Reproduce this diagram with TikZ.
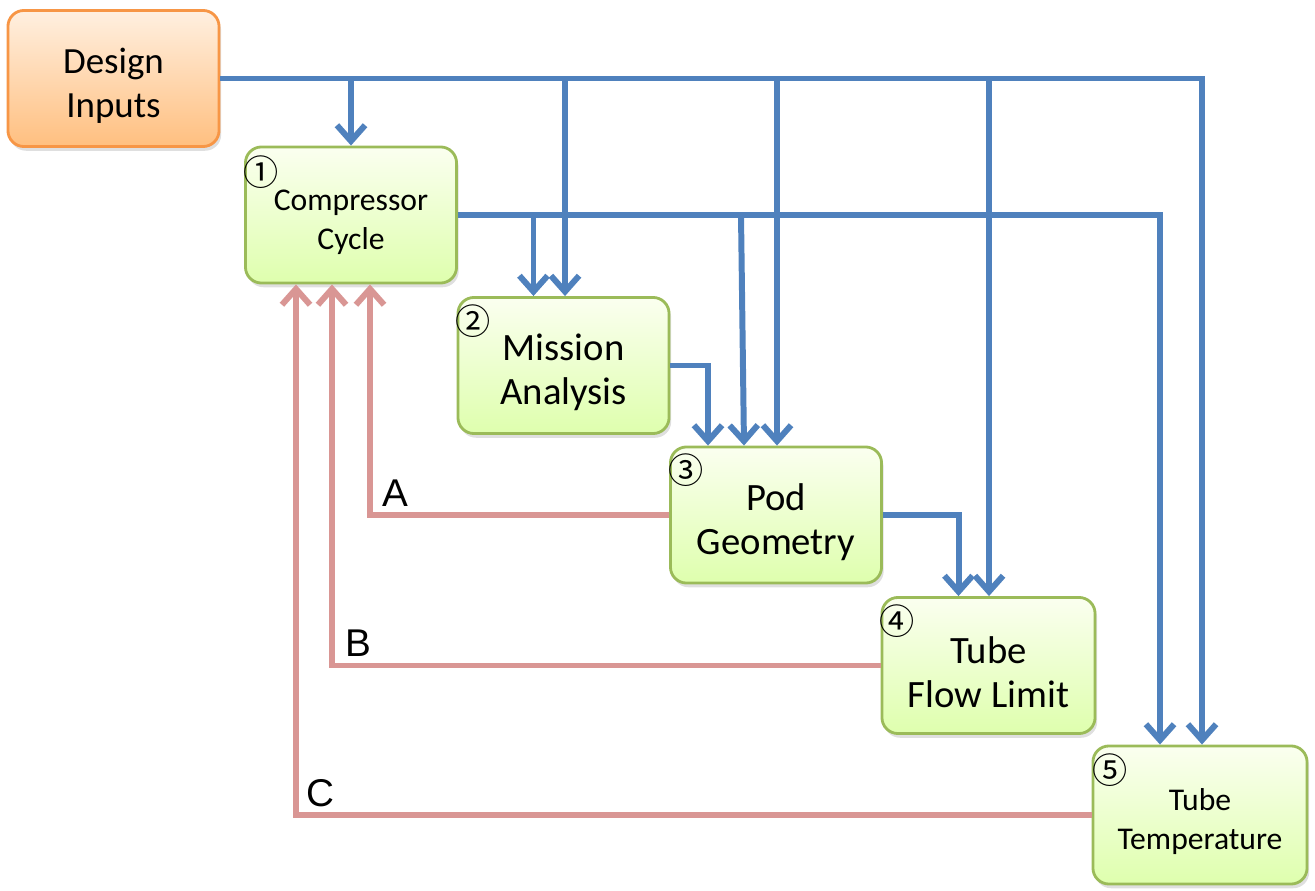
\documentclass[tikz,border=0pt]{standalone}
\usepackage{fontspec}
\setmainfont{Carlito}
\newfontfamily\labfont{Liberation Sans}
\newfontfamily\numfont{Noto Sans CJK JP}
\usetikzlibrary{arrows.meta,shadows}
\definecolor{flowblue}{HTML}{4F81BD}
\definecolor{backpink}{HTML}{D99694}
\definecolor{boxgreen}{HTML}{9BBB59}
\definecolor{boxorange}{HTML}{F79646}
\newcommand{\topstrut}{\rule{0pt}{\dimexpr0.75em+3.4pt\relax}}
\begin{document}
\begin{tikzpicture}[x=0.01cm,y=-0.01cm,
    box/.style={draw=boxgreen,line width=0.8pt,rounded corners=0.16cm,
        top color=green!5!lime!6!white,bottom color=green!20!lime!32!white,
        minimum width=2.11cm,minimum height=1.36cm,align=center,
        drop shadow={shadow xshift=0.6pt,shadow yshift=-1.2pt,opacity=0.25}},
    inbox/.style={box,draw=boxorange,top color=orange!12!white,bottom color=orange!50!white},
    num/.style={font=\numfont\fontsize{10}{10}\selectfont,inner sep=0pt},
    fwd/.style={draw=flowblue,line width=1.7pt,-{Straight Barb[length=4.5pt,width=8pt]}},
    back/.style={draw=backpink,line width=1.7pt,-{Straight Barb[length=4.5pt,width=8pt]}},
    tag/.style={font=\labfont\fontsize{11}{11}\selectfont,inner sep=0pt}]

  \useasboundingbox (0,0) rectangle (1315,891);

  % blocks
  \node[inbox,font=\fontsize{10.5}{12.5}\selectfont] (din) at (113.5,78.5) {\topstrut Design\\Inputs};
  \node[box,font=\fontsize{9}{11}\selectfont] (cc) at (351,215) {\topstrut Compressor\\Cycle};
  \node[box,font=\fontsize{11}{12.5}\selectfont] (ma) at (563.5,365.5) {\topstrut Mission\\Analysis};
  \node[box,font=\fontsize{11}{12.5}\selectfont] (pg) at (776,515) {\topstrut Pod\\Geometry};
  \node[box,font=\fontsize{11}{12.5}\selectfont,minimum width=2.13cm] (tfl) at (988.5,665.5) {\topstrut Tube\\Flow Limit};
  \node[box,font=\fontsize{9}{11}\selectfont,minimum width=2.14cm,minimum height=1.38cm] (tt) at (1200,815) {\topstrut Tube\\Temperature};

  % step numbers
  \node[num] (n1) at ([shift={(17,27)}]cc.north west) {①};
  \node[num] (n2) at ([shift={(17,25)}]ma.north west) {②};
  \node[num] (n3) at ([shift={(17,25)}]pg.north west) {③};
  \node[num] (n4) at ([shift={(17,25)}]tfl.north west) {④};
  \node[num] (n5) at ([shift={(19,26)}]tt.north west) {⑤};

  % inputs bus
  \draw[fwd] (din.east) -| ([shift={(2,0)}]tt.north);
  \draw[fwd] (cc.north |- din.east) -- (cc.north);
  \draw[fwd] ([shift={(1.5,0)}]ma.north |- din.east) -- ([shift={(1.5,0)}]ma.north);
  \draw[fwd] ([shift={(1,0)}]pg.north |- din.east) -- ([shift={(1,0)}]pg.north);
  \draw[fwd] ([shift={(0.5,0)}]tfl.north |- din.east) -- ([shift={(0.5,0)}]tfl.north);

  % compressor bus
  \draw[fwd] (cc.east) -| ([shift={(-40,0)}]tt.north);
  \draw[fwd] ([shift={(-30,0)}]ma.north |- cc.east) -- ([shift={(-30,0)}]ma.north);
  \draw[fwd] ([shift={(-35,0)}]pg.north |- cc.east) -- ([shift={(-32,0)}]pg.north);

  % chain
  \draw[fwd] (ma.east) -| ([shift={(-68,0)}]pg.north);
  \draw[fwd] (pg.east) -| ([shift={(-30,0)}]tfl.north);

  % feedback
  \draw[back] (pg.west) -| ([shift={(19,0)}]cc.south);
  \draw[back] (tfl.west) -| ([shift={(-19,0)}]cc.south);
  \draw[back] (tt.west) -| ([shift={(-55,0)}]cc.south);
  \node[tag] (la) at (395,493) {A};
  \node[tag] (lb) at (358,643) {B};
  \node[tag] (lc) at (320,793) {C};

\end{tikzpicture}
\end{document}
